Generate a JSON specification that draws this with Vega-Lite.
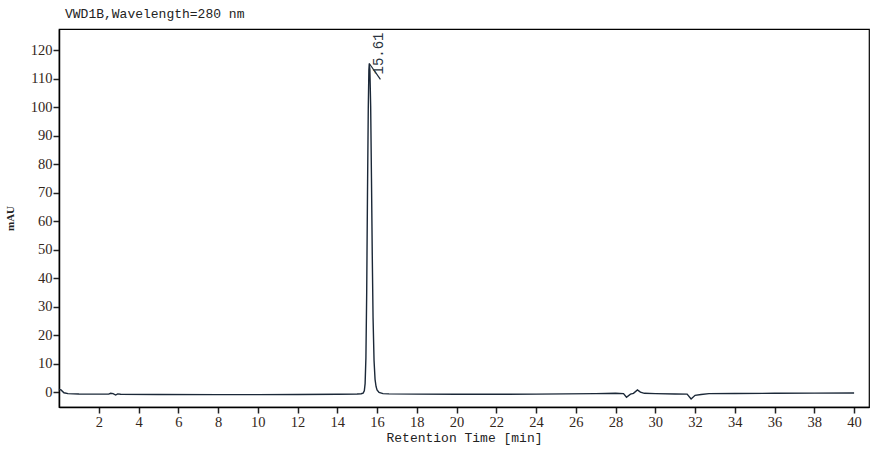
{
  "$schema": "https://vega.github.io/schema/vega-lite/v6.json",
  "autosize": "none",
  "padding": {"left": 59, "top": 29, "right": 13, "bottom": 46},
  "width": 810,
  "height": 378,
  "background": "white",
  "title": {
    "text": "VWD1B,Wavelength=280 nm",
    "anchor": "start",
    "frame": "group",
    "dx": 6,
    "offset": 8,
    "font": "Liberation Mono",
    "fontSize": 13,
    "fontWeight": "normal",
    "color": "#222222"
  },
  "datasets": {
    "trace": [
      {"t": 0.0, "mAU": 1.0},
      {"t": 0.1, "mAU": 0.8},
      {"t": 0.25, "mAU": -0.2},
      {"t": 0.45, "mAU": -0.5},
      {"t": 1.0, "mAU": -0.65},
      {"t": 2.0, "mAU": -0.7},
      {"t": 2.5, "mAU": -0.7},
      {"t": 2.6, "mAU": -0.4},
      {"t": 2.72, "mAU": -0.5},
      {"t": 2.85, "mAU": -1.0},
      {"t": 2.95, "mAU": -0.6},
      {"t": 3.1, "mAU": -0.75},
      {"t": 5.0, "mAU": -0.8},
      {"t": 8.0, "mAU": -0.85},
      {"t": 10.0, "mAU": -0.85},
      {"t": 12.0, "mAU": -0.8},
      {"t": 14.0, "mAU": -0.75},
      {"t": 15.0, "mAU": -0.65},
      {"t": 15.2, "mAU": -0.55},
      {"t": 15.3, "mAU": -0.35},
      {"t": 15.36, "mAU": 0.5},
      {"t": 15.4, "mAU": 3},
      {"t": 15.44, "mAU": 12},
      {"t": 15.48, "mAU": 35},
      {"t": 15.52, "mAU": 70},
      {"t": 15.56, "mAU": 100},
      {"t": 15.59, "mAU": 113},
      {"t": 15.61, "mAU": 115.3},
      {"t": 15.64, "mAU": 113},
      {"t": 15.68, "mAU": 100},
      {"t": 15.72, "mAU": 75},
      {"t": 15.76, "mAU": 48},
      {"t": 15.8, "mAU": 26},
      {"t": 15.85, "mAU": 11},
      {"t": 15.9, "mAU": 4.5},
      {"t": 15.95, "mAU": 2},
      {"t": 16.0, "mAU": 0.8},
      {"t": 16.1, "mAU": -0.1},
      {"t": 16.3, "mAU": -0.5},
      {"t": 16.6, "mAU": -0.6},
      {"t": 18.0, "mAU": -0.7},
      {"t": 20.0, "mAU": -0.75},
      {"t": 24.0, "mAU": -0.7},
      {"t": 27.0, "mAU": -0.5},
      {"t": 28.0, "mAU": -0.4},
      {"t": 28.4, "mAU": -0.5},
      {"t": 28.55, "mAU": -1.8},
      {"t": 28.75, "mAU": -0.7},
      {"t": 28.9, "mAU": -0.4},
      {"t": 29.1, "mAU": 0.8},
      {"t": 29.25, "mAU": 0.0},
      {"t": 29.45, "mAU": -0.4},
      {"t": 30.0, "mAU": -0.5},
      {"t": 31.0, "mAU": -0.65},
      {"t": 31.6, "mAU": -0.7},
      {"t": 31.8, "mAU": -2.4},
      {"t": 32.0, "mAU": -1.1},
      {"t": 32.3, "mAU": -0.8},
      {"t": 32.7, "mAU": -0.5},
      {"t": 34.0, "mAU": -0.45},
      {"t": 36.0, "mAU": -0.4},
      {"t": 38.0, "mAU": -0.35},
      {"t": 40.0, "mAU": -0.3}
    ],
    "peaks": [
      {"t": 15.61, "mAU": 115.3, "t2": 16.17, "mAU2": 109.7, "label": "15.61"}
    ]
  },
  "encoding": {
    "x": {
      "field": "t",
      "type": "quantitative",
      "scale": {"domain": [0, 40.75], "nice": false, "zero": false},
      "axis": {
        "title": "Retention Time [min]",
        "values": [2, 4, 6, 8, 10, 12, 14, 16, 18, 20, 22, 24, 26, 28, 30, 32, 34, 36, 38, 40],
        "grid": false,
        "domainColor": "#000000",
        "domainWidth": 1.5,
        "tickColor": "#222222",
        "tickSize": 6,
        "tickWidth": 1.5,
        "labelFont": "Liberation Serif",
        "labelFontSize": 14.5,
        "labelColor": "#33261a",
        "labelPadding": 2,
        "titleFont": "Liberation Mono",
        "titleFontSize": 13,
        "titleFontWeight": "normal",
        "titleColor": "#222222",
        "titlePadding": 3
      }
    },
    "y": {
      "field": "mAU",
      "type": "quantitative",
      "scale": {"domain": [-5.2, 127.4], "nice": false, "zero": false},
      "axis": {
        "title": "mAU",
        "values": [0, 10, 20, 30, 40, 50, 60, 70, 80, 90, 100, 110, 120],
        "grid": false,
        "domainColor": "#000000",
        "domainWidth": 1.5,
        "tickColor": "#222222",
        "tickSize": 6,
        "tickWidth": 1.5,
        "labelFont": "Liberation Serif",
        "labelFontSize": 14.5,
        "labelColor": "#33261a",
        "labelPadding": 1,
        "titleFont": "Liberation Serif",
        "titleFontSize": 11,
        "titleFontWeight": "bold",
        "titleColor": "#222222",
        "titlePadding": 15
      }
    }
  },
  "layer": [
    {
      "data": {"name": "trace"},
      "mark": {"type": "line", "color": "#1b2838", "strokeWidth": 1.4, "interpolate": "linear"}
    },
    {
      "data": {"name": "peaks"},
      "mark": {"type": "rule", "color": "#1b2838", "strokeWidth": 1.2},
      "encoding": {
        "x2": {"field": "t2"},
        "y2": {"field": "mAU2"}
      }
    },
    {
      "data": {"name": "peaks"},
      "mark": {
        "type": "text",
        "angle": 270,
        "align": "left",
        "baseline": "middle",
        "dx": -11,
        "dy": 10,
        "font": "Liberation Mono",
        "fontSize": 14,
        "color": "#2a3440"
      },
      "encoding": {
        "text": {"field": "label"}
      }
    }
  ],
  "config": {
    "view": {"stroke": "#000000", "strokeWidth": 1.2}
  }
}
